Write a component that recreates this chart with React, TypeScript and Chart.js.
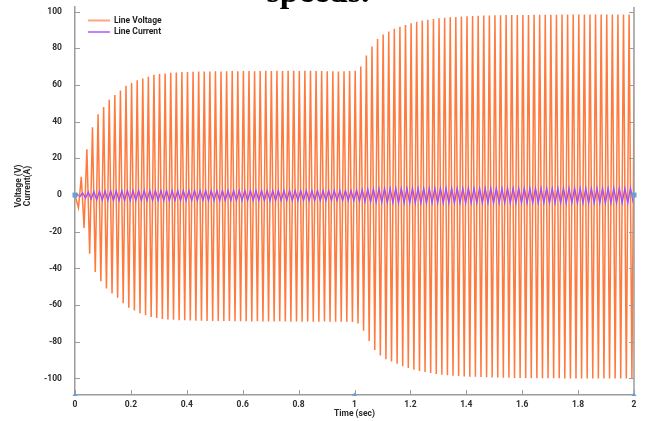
import React, { useEffect, useRef } from "react";
import { Chart, registerables } from "chart.js";

Chart.register(...registerables);

// One mains cycle (50 Hz) and where the first extremes of each waveform fall
const CYCLE_SEC = 0.02;
const VOLT_TROUGH_T0 = 0.0125;
const VOLT_PEAK_T0 = 0.0225;
const CURR_PEAK_T0 = 0.0075;
const CURR_TROUGH_T0 = 0.0175;

// Positive peak of the line voltage in each cycle (V)
const voltagePeaks = [
  10, 25, 37, 44, 48, 52, 54.5, 57, 59.5, 61,
  62.5, 63.5, 64.5, 65.5, 66, 66.3, 66.6, 66.8, 67, 67.1,
  67.2, 67.3, 67.3, 67.4, 67.5, 67.4, 67.5, 67.6, 67.5, 67.6,
  67.6, 67.5, 67.6, 67.7, 67.6, 67.7, 67.6, 67.7, 67.7, 67.6,
  67.7, 67.7, 67.6, 67.6, 67.5, 67.5, 67.4, 67.5, 67.6, 67.8,
  70, 76, 81, 85, 87.5, 89.2, 90.6, 91.7, 92.7, 93.6,
  94.5, 95.1, 95.6, 96, 96.3, 96.6, 96.9, 97.1, 97.3, 97.5,
  97.6, 97.7, 97.8, 97.9, 98, 98, 98.1, 98.1, 98.2, 98.2,
  98.2, 98.3, 98.3, 98.3, 98.3, 98.3, 98.4, 98.4, 98.4, 98.4,
  98.4, 98.4, 98.4, 98.4, 98.4, 98.4, 98.4, 98.4, 98.4, 98.4,
];

// Negative peak of the line voltage in each cycle (V)
const voltageTroughs = [
  -7, -18, -32, -42, -47, -51, -53.6, -56, -59, -61.5,
  -63, -64.5, -65.5, -66.5, -67, -67.5, -67.8, -68, -68.2, -68.3,
  -68.4, -68.5, -68.5, -68.6, -68.6, -68.7, -68.7, -68.7, -68.8, -68.8,
  -68.8, -68.9, -68.8, -68.9, -68.9, -68.9, -68.8, -68.9, -69, -68.9,
  -69, -68.9, -69, -69, -68.9, -69, -69, -69, -69, -69.2,
  -70, -74, -79.5, -84.5, -87.5, -89.5, -90.8, -92, -93.3, -94.3,
  -95.2, -95.9, -96.5, -97, -97.5, -97.9, -98.2, -98.5, -98.7, -98.9,
  -99, -99.1, -99.2, -99.3, -99.4, -99.5, -99.6, -99.6, -99.7, -99.7,
  -99.8, -99.8, -99.8, -99.9, -99.9, -99.9, -99.9, -100, -100, -100,
  -100, -100, -100, -100, -100, -100, -100, -100, -100, -100,
];

// Positive peak of the line current in each cycle (A)
const currentPeaks = [
  0.5, 1.1, 1.6, 1.9, 2.1, 2.2, 2.3, 2.3, 2.4, 2.4,
  2.4, 2.4, 2.4, 2.4, 2.4, 2.4, 2.4, 2.4, 2.4, 2.4,
  2.4, 2.4, 2.4, 2.4, 2.4, 2.4, 2.4, 2.4, 2.4, 2.4,
  2.4, 2.4, 2.4, 2.4, 2.4, 2.4, 2.4, 2.4, 2.4, 2.4,
  2.4, 2.4, 2.4, 2.4, 2.4, 2.4, 2.4, 2.4, 2.4, 2.4,
  2.6, 2.9, 3.1, 3.3, 3.4, 3.5, 3.5, 3.6, 3.6, 3.6,
  3.6, 3.6, 3.6, 3.6, 3.6, 3.6, 3.6, 3.6, 3.6, 3.6,
  3.6, 3.6, 3.6, 3.6, 3.6, 3.6, 3.6, 3.6, 3.6, 3.6,
  3.6, 3.6, 3.6, 3.6, 3.6, 3.6, 3.6, 3.6, 3.6, 3.6,
  3.6, 3.6, 3.6, 3.6, 3.6, 3.6, 3.6, 3.6, 3.6, 3.6,
];

// Negative peak of the line current in each cycle (A)
const currentTroughs = [
  -0.8, -1.6, -2.2, -2.6, -2.8, -2.9, -3, -3, -3, -3,
  -3, -3, -3, -3, -3, -3, -3, -3, -3, -3,
  -3, -3, -3, -3, -3, -3, -3, -3, -3, -3,
  -3, -3, -3, -3, -3, -3, -3, -3, -3, -3,
  -3, -3, -3, -3, -3, -3, -3, -3, -3, -3,
  -3.2, -3.5, -3.7, -3.9, -4, -4.1, -4.1, -4.2, -4.2, -4.2,
  -4.2, -4.2, -4.2, -4.2, -4.2, -4.2, -4.2, -4.2, -4.2, -4.2,
  -4.2, -4.2, -4.2, -4.2, -4.2, -4.2, -4.2, -4.2, -4.2, -4.2,
  -4.2, -4.2, -4.2, -4.2, -4.2, -4.2, -4.2, -4.2, -4.2, -4.2,
  -4.2, -4.2, -4.2, -4.2, -4.2, -4.2, -4.2, -4.2, -4.2, -4.2,
];

const xTicks = [0, 0.2, 0.4, 0.6, 0.8, 1, 1.2, 1.4, 1.6, 1.8, 2];
const yTicks = [-100, -80, -60, -40, -20, 0, 20, 40, 60, 80, 100];
const markerTimes = [0, 1, 2];

const X_MIN = 0;
const X_MAX = 2;
const Y_MIN = -109;
const Y_MAX = 102.5;

const VOLT_COLOR = "#ff7a3e";
const VOLT_LEGEND = "#ffa47c";
const CURR_COLOR = "#a64ff0";
const CURR_LEGEND = "#c581f7";
const AXIS_COLOR = "#9c9c9c";
const MARKER_COLOR = "#6a9fd4";
const FONT = "Roboto, 'Open Sans', sans-serif";

// Interleave the per-cycle extremes into one time series
function buildWave(
  firstT: number,
  firstVals: number[],
  secondT: number,
  secondVals: number[]
) {
  const pts: { x: number; y: number }[] = [{ x: 0, y: 0 }];
  const n = Math.max(firstVals.length, secondVals.length);
  for (let k = 0; k < n; k++) {
    if (k < firstVals.length) pts.push({ x: firstT + k * CYCLE_SEC, y: firstVals[k] });
    if (k < secondVals.length) pts.push({ x: secondT + k * CYCLE_SEC, y: secondVals[k] });
  }
  return pts;
}

const decorPlugin = {
  id: "decor",
  afterDraw(chart: any) {
    const { ctx, chartArea, scales } = chart;
    const xs = scales.x;
    const ys = scales.y;
    const { left, right, top, bottom } = chartArea;
    ctx.save();

    // right frame line
    ctx.strokeStyle = AXIS_COLOR;
    ctx.lineWidth = 1.5;
    ctx.beginPath();
    ctx.moveTo(right, top);
    ctx.lineTo(right, bottom);
    ctx.stroke();

    // inward tick marks
    ctx.lineWidth = 1;
    ctx.beginPath();
    yTicks.forEach((v) => {
      const py = Math.round(ys.getPixelForValue(v)) + 0.5;
      ctx.moveTo(left, py);
      ctx.lineTo(left + 5, py);
      ctx.moveTo(right, py);
      ctx.lineTo(right - 5, py);
    });
    xTicks.forEach((v) => {
      const px = Math.round(xs.getPixelForValue(v)) + 0.5;
      ctx.moveTo(px, bottom);
      ctx.lineTo(px, bottom - 5);
    });
    ctx.stroke();

    // small cursor markers on the time axis and the zero line
    ctx.fillStyle = MARKER_COLOR;
    markerTimes.forEach((t) => {
      const px = xs.getPixelForValue(t);
      ctx.beginPath();
      ctx.moveTo(px - 2.5, bottom + 1);
      ctx.lineTo(px + 2.5, bottom + 1);
      ctx.lineTo(px, bottom - 2.5);
      ctx.closePath();
      ctx.fill();
    });
    const zy = ys.getPixelForValue(0);
    [X_MIN, X_MAX].forEach((t) => {
      const px = xs.getPixelForValue(t);
      ctx.fillRect(px - 2.5, zy - 2.5, 5, 5);
    });

    // y axis title (two lines, rotated)
    ctx.fillStyle = "#2a2a2a";
    ctx.font = `bold 8.5px ${FONT}`;
    ctx.textAlign = "center";
    ctx.textBaseline = "middle";
    ctx.save();
    ctx.translate(18.5, 186);
    ctx.rotate(-Math.PI / 2);
    ctx.fillText("Voltage (V)", 0, 0);
    ctx.fillText("Current(A)", 0, 9);
    ctx.restore();

    // legend
    const legend = [
      { label: "Line Voltage", color: VOLT_LEGEND, y: 20.5 },
      { label: "Line Current", color: CURR_LEGEND, y: 32 },
    ];
    ctx.textAlign = "left";
    legend.forEach((item) => {
      ctx.strokeStyle = item.color;
      ctx.lineWidth = 2;
      ctx.beginPath();
      ctx.moveTo(88, item.y);
      ctx.lineTo(110, item.y);
      ctx.stroke();
      ctx.fillStyle = "#1e1e1e";
      ctx.fillText(item.label, 114, item.y);
    });

    // heading text above the figure
    ctx.fillStyle = "#000";
    ctx.font = "bold 34px 'Liberation Serif', serif";
    ctx.textAlign = "center";
    ctx.textBaseline = "alphabetic";
    ctx.fillText("speeds.", 318, 2);

    ctx.restore();
  },
};

export default function App() {
  const canvasRef = useRef<HTMLCanvasElement | null>(null);

  useEffect(() => {
    const canvas = canvasRef.current;
    if (!canvas) return;

    const voltage = buildWave(VOLT_TROUGH_T0, voltageTroughs, VOLT_PEAK_T0, voltagePeaks);
    const current = buildWave(CURR_PEAK_T0, currentPeaks, CURR_TROUGH_T0, currentTroughs);

    const tickFont = { family: FONT, size: 8.5, weight: "bold" as const };

    const chart = new Chart(canvas, {
      type: "line",
      data: {
        datasets: [
          {
            label: "Line Current",
            data: current,
            borderColor: CURR_COLOR,
            borderWidth: 1.4,
            pointRadius: 0,
            tension: 0,
            order: 0,
          },
          {
            label: "Line Voltage",
            data: voltage,
            borderColor: VOLT_COLOR,
            borderWidth: 1.5,
            pointRadius: 0,
            tension: 0,
            order: 1,
          },
        ],
      },
      plugins: [decorPlugin],
      options: {
        responsive: false,
        animation: false,
        events: [],
        layout: { padding: { left: 0, top: 7, right: 14, bottom: 0 } },
        plugins: {
          legend: { display: false },
          tooltip: { enabled: false },
        },
        scales: {
          x: {
            type: "linear",
            min: X_MIN,
            max: X_MAX,
            afterFit: (s: any) => {
              s.height = 26;
              s.paddingLeft = 0;
              s.paddingRight = 0;
            },
            afterBuildTicks: (s: any) => {
              s.ticks = xTicks.map((value) => ({ value }));
            },
            grid: { display: false, drawTicks: false },
            border: { display: true, color: AXIS_COLOR, width: 1.5 },
            ticks: {
              padding: 5,
              color: "#2e2e2e",
              font: tickFont,
              maxRotation: 0,
              autoSkip: false,
              callback: (v: any) => String(v),
            },
            title: {
              display: true,
              text: "Time (sec)",
              color: "#2a2a2a",
              font: tickFont,
              padding: { top: 0, bottom: 2 },
            },
          },
          y: {
            type: "linear",
            min: Y_MIN,
            max: Y_MAX,
            afterFit: (s: any) => {
              s.width = 75;
              s.paddingTop = 0;
              s.paddingBottom = 0;
            },
            afterBuildTicks: (s: any) => {
              s.ticks = yTicks.map((value) => ({ value }));
            },
            grid: { display: false, drawTicks: false },
            border: { display: true, color: AXIS_COLOR, width: 1.5 },
            ticks: {
              padding: 13,
              color: "#2e2e2e",
              font: tickFont,
              autoSkip: false,
              callback: (v: any) => String(v),
            },
          },
        },
      },
    });

    return () => chart.destroy();
  }, []);

  return (
    <div style={{ position: "fixed", left: 0, top: 0, width: 648, height: 421, background: "#fff" }}>
      <canvas ref={canvasRef} width={648} height={421} style={{ display: "block" }} />
    </div>
  );
}
